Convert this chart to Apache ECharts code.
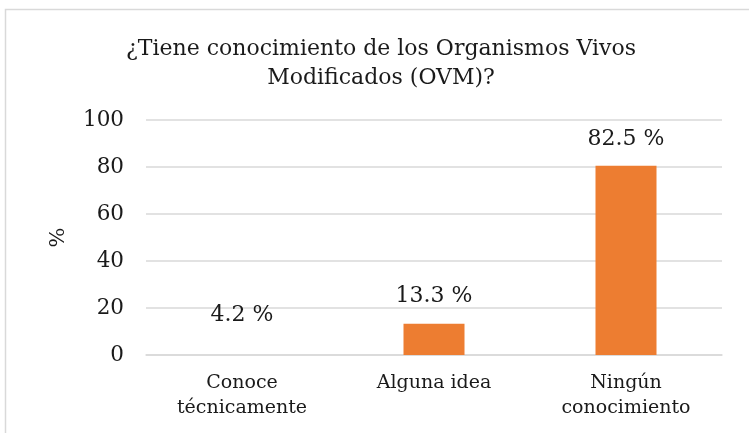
<!DOCTYPE html>
<html><head><meta charset="utf-8">
<script src="https://cdn.jsdelivr.net/npm/echarts@6/dist/echarts.min.js"></script>
<style>html,body{margin:0;padding:0;background:#fff}#c{width:749px;height:433px}</style>
</head><body><div id="c"></div>
<script>
const categories = ['Conoce\ntécnicamente', 'Alguna idea', 'Ningún\nconocimiento'];
const values = [4.2, 13.3, 80.5];
const labelTexts = ['4.2 %', '13.3 %', '82.5 %'];
const yTicks = [0, 20, 40, 60, 80, 100];

const FONT = '"DejaVu Serif", serif';
const chart = echarts.init(document.getElementById('c'));
chart.setOption({
  animation: false,
  graphic: [{type:'rect', shape:{x:5.5, y:9.5, width:760, height:440}, style:{fill:'none', stroke:'#d9d9d9', lineWidth:1.5}}],
  title: {
    text: '¿Tiene conocimiento de los Organismos Vivos\nModificados (OVM)?',
    left: 376, top: 30, textAlign: 'center',
    textStyle: {fontFamily: FONT, fontSize: 22, fontWeight: 'normal', color: '#1a1a1a', lineHeight: 29}
  },
  grid: {left: 146, right: 27, top: 120, bottom: 78},
  xAxis: {
    type: 'category', data: categories,
    axisLine: {lineStyle: {color: '#d9d9d9', width: 1.5}},
    axisTick: {show: false},
    axisLabel: {fontFamily: FONT, fontSize: 19, color: '#1a1a1a', lineHeight: 25, margin: 16}
  },
  yAxis: {
    type: 'value', min: yTicks[0], max: yTicks[yTicks.length-1], interval: 20,
    name: '%', nameLocation: 'middle', nameGap: 77, nameRotate: 90,
    nameTextStyle: {fontFamily: FONT, fontSize: 21, color: '#1a1a1a'},
    axisLine: {show: false}, axisTick: {show: false},
    axisLabel: {fontFamily: FONT, fontSize: 21.5, color: '#1a1a1a', margin: 22},
    splitLine: {lineStyle: {color: '#d9d9d9', width: 1.5}}
  },
  series: [{
    type: 'bar', barWidth: 61,
    data: values.map((v, i) => i === 0
      ? {value: v, itemStyle: {color: 'rgba(0,0,0,0)'}, label: {offset: [0, -3]}}
      : {value: v}),
    itemStyle: {color: '#ED7D31'},
    label: {
      show: true, position: 'top', distance: 16,
      fontFamily: FONT, fontSize: 22, color: '#1a1a1a',
      formatter: p => labelTexts[p.dataIndex]
    }
  }]
});
</script></body></html>
